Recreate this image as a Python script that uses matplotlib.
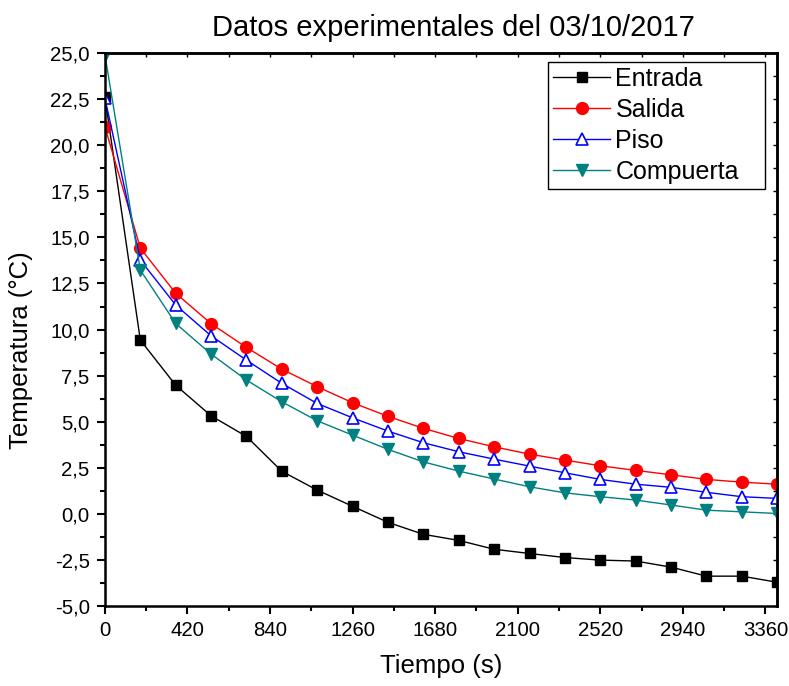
"""
Datos experimentales del 03/10/2017 - temperature decay curves
"""
import matplotlib
matplotlib.use("Agg")
import matplotlib.pyplot as plt
from matplotlib.ticker import MultipleLocator, FuncFormatter

plt.rcParams['font.family'] = ['Liberation Sans', 'DejaVu Sans']

# time in seconds (one reading every 180 s)
tiempo = [0, 180, 360, 540, 720, 900, 1080, 1260, 1440, 1620,
          1800, 1980, 2160, 2340, 2520, 2700, 2880, 3060, 3240, 3420]

entrada = [22.6, 9.43, 6.98, 5.32, 4.2, 2.31, 1.29, 0.41, -0.46, -1.11,
           -1.44, -1.92, -2.15, -2.37, -2.51, -2.56, -2.89, -3.38, -3.38, -3.71]
salida = [21.0, 14.42, 11.97, 10.32, 9.03, 7.85, 6.9, 6.03, 5.29, 4.64,
          4.09, 3.64, 3.24, 2.92, 2.61, 2.36, 2.12, 1.87, 1.72, 1.61]
piso = [22.55, 13.77, 11.33, 9.66, 8.34, 7.08, 5.99, 5.21, 4.49, 3.86,
        3.37, 2.97, 2.59, 2.23, 1.87, 1.61, 1.44, 1.17, 0.93, 0.84]
compuerta = [24.9, 13.23, 10.33, 8.67, 7.26, 6.08, 5.05, 4.27, 3.5, 2.82,
             2.32, 1.89, 1.47, 1.14, 0.93, 0.75, 0.48, 0.2, 0.11, 0.02]

fig = plt.figure(figsize=(7.89, 6.86), dpi=100)
ax = fig.add_axes([0.133, 0.1166, 0.852, 0.806])

ax.plot(tiempo, entrada, color='black', lw=1, marker='s', ms=7.5,
        mfc='black', mec='black', label='Entrada')
ax.plot(tiempo, salida, color='red', lw=1, marker='o', ms=8.5,
        mfc='red', mec='red', label='Salida')
ax.plot(tiempo, piso, color='blue', lw=1, marker='^', ms=9,
        mfc='white', mec='blue', mew=1.2, label='Piso')
ax.plot(tiempo, compuerta, color='#008080', lw=1, marker='v', ms=9,
        mfc='#008080', mec='#008080', label='Compuerta')

ax.set_xlim(0, 3420)
ax.set_ylim(-5, 25)

ax.xaxis.set_major_locator(MultipleLocator(420))
ax.xaxis.set_minor_locator(MultipleLocator(210))
ax.yaxis.set_major_locator(MultipleLocator(2.5))
ax.yaxis.set_minor_locator(MultipleLocator(1.25))
# comma decimals and a plain hyphen for negatives, as in the original
ax.yaxis.set_major_formatter(FuncFormatter(lambda v, p: f"{v:.1f}".replace('.', ',')))
ax.xaxis.set_major_formatter(FuncFormatter(lambda v, p: f"{v:.0f}"))

ax.tick_params(which='both', direction='out', labelsize=14.7, width=1.5,
               pad=5, top=False, right=False)
ax.tick_params(which='major', length=6)
ax.tick_params(which='minor', length=3.5)

# top and right axes carry short inward ticks, no labels
sec_x = ax.secondary_xaxis('top')
sec_x.xaxis.set_major_locator(MultipleLocator(420))
sec_x.xaxis.set_minor_locator(MultipleLocator(210))
sec_x.tick_params(which='both', direction='in', length=3, width=1, labeltop=False)
sec_y = ax.secondary_yaxis('right')
sec_y.yaxis.set_major_locator(MultipleLocator(2.5))
sec_y.yaxis.set_minor_locator(MultipleLocator(1.25))
sec_y.tick_params(which='both', direction='in', length=3, width=1, labelright=False)
for s in list(ax.spines.values()) + [sec_x.spines['top'], sec_y.spines['right']]:
    s.set_linewidth(1.8)

ax.set_title("Datos experimentales del 03/10/2017", fontsize=21, pad=12, x=0.518)
ax.set_xlabel("Tiempo (s)", fontsize=18.5, labelpad=10)
ax.set_ylabel("Temperatura (°C)", fontsize=18.5)
ax.yaxis.set_label_coords(-0.107, 0.463)

leg = ax.legend(loc='upper left', fontsize=18, fancybox=False, framealpha=1,
                edgecolor='black', borderpad=0.2, labelspacing=0.28,
                handlelength=2.3, handletextpad=0.2, borderaxespad=0,
                mode='expand', bbox_to_anchor=(0.659, 0.7595, 0.323, 0.2245))
leg.get_frame().set_linewidth(1)

fig.savefig('out.png', dpi=100)
